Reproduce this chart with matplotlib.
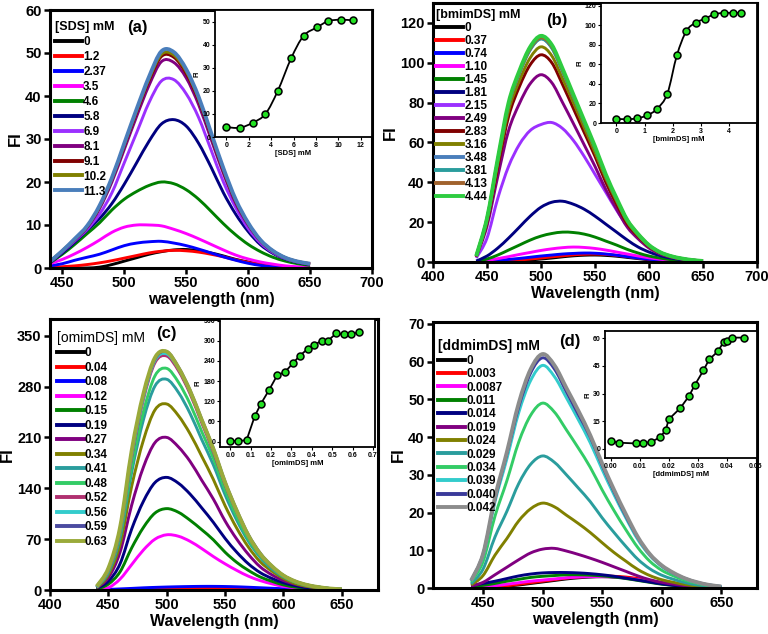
import matplotlib
matplotlib.use("Agg")
import matplotlib.pyplot as plt
from matplotlib.path import Path
from matplotlib.patches import PathPatch
from matplotlib.lines import Line2D

plt.rcParams['font.family'] = ['Liberation Sans', 'DejaVu Sans']
plt.rcParams['font.weight'] = 'bold'

# ---------------- shared x grid (nm) ----------------
WAVELENGTH = [440, 450, 460, 470, 480, 490, 500, 510, 520, 530, 540,
              550, 560, 570, 580, 590, 600, 610, 620, 630, 640, 650]

# ---------------- panel (a): SDS ----------------
a_labels = ["0", "1.2", "2.37", "3.5", "4.6", "5.8", "6.9", "8.1", "9.1", "10.2", "11.3"]
a_colors = ["#000000", "#ff0000", "#0000ff", "#ff00ff", "#008000", "#000080",
            "#9b30ff", "#800080", "#800000", "#808000", "#4a7ebb"]
a_spectra = [
    [0, 0, 0, 0, 0.2, 0.8, 1.6, 2.4, 3.2, 3.8, 4.2, 4.3, 4.0, 3.5, 2.8, 2.0, 1.4, 0.8, 0.4, 0.2, 0.1, 0],
    [0.1, 0.3, 0.5, 0.8, 1.2, 1.7, 2.3, 2.9, 3.5, 3.9, 4.1, 4.0, 3.7, 3.2, 2.6, 1.9, 1.3, 0.8, 0.4, 0.2, 0.1, 0],
    [0.5, 1.0, 1.8, 2.5, 3.2, 4.2, 5.2, 5.8, 6.1, 6.2, 5.8, 5.2, 4.4, 3.5, 2.6, 1.8, 1.1, 0.6, 0.3, 0.1, 0, 0],
    [1.0, 2.0, 3.3, 4.8, 6.5, 8.3, 9.5, 10.0, 10.0, 9.8, 9.0, 8.0, 6.8, 5.5, 4.2, 3.0, 2.1, 1.4, 0.9, 0.5, 0.3, 0.2],
    [1.2, 3.2, 5.5, 8.0, 10.5, 13.5, 16.0, 17.8, 19.2, 20.0, 19.6, 18.2, 16.0, 13.2, 10.3, 7.7, 5.5, 3.8, 2.5, 1.6, 1.0, 0.6],
    [1.3, 3.5, 6.0, 8.8, 11.5, 15.0, 19.5, 24.5, 29.5, 33.5, 34.5, 33.0, 29.0, 23.5, 17.5, 12.5, 8.5, 5.4, 3.4, 2.1, 1.3, 0.8],
    [1.4, 3.8, 6.3, 9.0, 12.5, 17.5, 24.5, 31.5, 38.5, 43.5, 43.8, 40.5, 35.0, 27.5, 20.0, 14.0, 9.2, 5.8, 3.6, 2.2, 1.4, 0.9],
    [1.4, 3.9, 6.5, 9.4, 13.8, 20.0, 27.6, 35.3, 42.5, 48.0, 47.8, 44.2, 38.0, 30.0, 22.0, 15.0, 10.0, 6.2, 3.8, 2.3, 1.4, 0.9],
    [1.5, 4.0, 6.7, 9.6, 14.2, 20.6, 28.4, 36.3, 43.6, 49.2, 49.0, 45.2, 39.0, 30.8, 22.6, 15.5, 10.3, 6.4, 3.9, 2.4, 1.5, 1.0],
    [1.5, 4.0, 6.7, 9.7, 14.3, 20.8, 28.7, 36.6, 44.0, 49.7, 49.5, 45.7, 39.4, 31.2, 23.0, 15.7, 10.4, 6.4, 4.0, 2.4, 1.5, 1.0],
    [1.5, 4.0, 6.8, 9.8, 14.5, 21.0, 29.0, 37.0, 44.5, 50.4, 50.2, 46.2, 39.8, 31.5, 23.2, 15.9, 10.5, 6.5, 4.0, 2.4, 1.5, 1.0],
]
a_inset_conc = [0, 1.2, 2.37, 3.5, 4.6, 5.8, 6.9, 8.1, 9.1, 10.2, 11.3]
a_inset_fi = [4.3, 4.0, 6.2, 10.0, 20.0, 34.2, 43.8, 47.5, 50.2, 50.8, 50.5]

# ---------------- panel (b): bmimDS ----------------
b_labels = ["0", "0.37", "0.74", "1.10", "1.45", "1.81", "2.15", "2.49", "2.83",
            "3.16", "3.48", "3.81", "4.13", "4.44"]
b_colors = ["#000000", "#ff0000", "#0000ff", "#ff00ff", "#008000", "#000080",
            "#9b30ff", "#800080", "#800000", "#808000", "#4a7ebb", "#2a9d9d",
            "#a0622d", "#2ecc40"]
b_spectra = [
    [0, 0, 0.1, 0.3, 0.6, 1.0, 1.5, 2.0, 2.6, 3.1, 3.4, 3.5, 3.3, 2.9, 2.3, 1.7, 1.1, 0.7, 0.4, 0.2, 0.1, 0],
    [0, 0.1, 0.3, 0.6, 1.0, 1.5, 2.0, 2.6, 3.1, 3.6, 3.9, 4.0, 3.8, 3.3, 2.7, 2.0, 1.4, 0.9, 0.5, 0.3, 0.1, 0],
    [0.1, 0.4, 0.8, 1.3, 1.8, 2.4, 3.0, 3.5, 4.0, 4.3, 4.5, 4.4, 4.0, 3.4, 2.7, 2.0, 1.4, 0.9, 0.5, 0.3, 0.2, 0.1],
    [0.2, 0.8, 1.7, 2.7, 3.8, 4.8, 5.8, 6.6, 7.2, 7.5, 7.3, 6.8, 6.0, 5.0, 4.0, 3.0, 2.1, 1.4, 0.9, 0.5, 0.3, 0.2],
    [0.3, 1.5, 3.5, 6.0, 8.5, 11.0, 13.0, 14.3, 15.0, 14.8, 14.0, 12.5, 10.5, 8.5, 6.3, 4.5, 3.0, 2.0, 1.2, 0.7, 0.4, 0.2],
    [0.5, 3.0, 7.0, 12.0, 17.5, 23.0, 27.5, 30.0, 30.5, 29.0, 26.5, 23.0, 19.0, 15.0, 11.0, 7.5, 5.0, 3.2, 2.0, 1.2, 0.7, 0.4],
    [2.0, 12.0, 32.0, 48.0, 59.0, 66.0, 69.0, 70.0, 67.0, 61.0, 53.0, 44.0, 35.0, 26.0, 18.0, 12.0, 7.5, 4.5, 2.7, 1.6, 0.9, 0.5],
    [2.5, 18.0, 43.0, 66.0, 79.5, 89.5, 94.0, 90.0, 80.0, 69.5, 58.8, 48.0, 36.4, 26.5, 17.4, 11.6, 7.0, 4.1, 2.5, 1.5, 0.8, 0.4],
    [2.7, 20.0, 47.6, 73.0, 88.0, 99.0, 104.0, 100.0, 89.0, 77.0, 65.0, 53.0, 40.0, 29.0, 19.0, 12.8, 7.8, 4.6, 2.7, 1.6, 0.9, 0.5],
    [2.8, 21.0, 49.5, 76.0, 91.0, 102.5, 108.0, 103.5, 92.0, 80.0, 67.5, 55.0, 42.0, 30.5, 20.0, 13.3, 8.0, 4.8, 2.8, 1.7, 1.0, 0.5],
    [3.0, 21.8, 51.3, 78.8, 94.6, 106.5, 112.0, 107.4, 95.6, 82.8, 70.0, 57.2, 43.4, 31.5, 20.7, 13.8, 8.4, 4.9, 3.0, 1.8, 1.0, 0.5],
    [3.0, 21.8, 51.3, 78.8, 94.6, 106.5, 112.0, 107.4, 95.6, 82.8, 70.0, 57.2, 43.4, 31.5, 20.7, 13.8, 8.4, 4.9, 3.0, 1.8, 1.0, 0.5],
    [3.0, 22.0, 51.5, 79.0, 95.0, 107.0, 112.5, 108.0, 96.0, 83.0, 70.3, 57.5, 43.5, 31.5, 21.0, 14.0, 8.4, 5.0, 3.0, 1.8, 1.0, 0.5],
    [3.0, 22.0, 52.0, 80.0, 96.0, 108.0, 113.5, 109.0, 97.0, 84.0, 71.0, 58.0, 44.0, 32.0, 21.0, 14.0, 8.5, 5.0, 3.0, 1.8, 1.0, 0.5],
]
b_inset_conc = [0, 0.37, 0.74, 1.10, 1.45, 1.81, 2.15, 2.49, 2.83, 3.16, 3.48, 3.81, 4.13, 4.44]
b_inset_fi = [4.4, 3.8, 4.8, 7.9, 14.7, 30.0, 69.4, 94.4, 103.0, 107.0, 111.5, 112.8, 112.8, 112.8]

# ---------------- panel (c): omimDS ----------------
c_labels = ["0", "0.04", "0.08", "0.12", "0.15", "0.19", "0.27", "0.34", "0.41",
            "0.48", "0.52", "0.56", "0.59", "0.63"]
c_colors = ["#000000", "#ff0000", "#0000ff", "#ff00ff", "#008000", "#000080",
            "#800080", "#808000", "#2a9d9d", "#33cc66", "#b03070", "#33cccc",
            "#4b4ba0", "#9aaa3a"]
c_spectra = [
    [0, 0, 0.1, 0.3, 0.5, 0.7, 0.9, 1.1, 1.3, 1.4, 1.5, 1.4, 1.3, 1.1, 0.9, 0.6, 0.4, 0.3, 0.1, 0.1, 0, 0],
    [0, 0.1, 0.2, 0.4, 0.7, 1.0, 1.3, 1.6, 1.8, 2.0, 2.0, 1.9, 1.7, 1.4, 1.1, 0.8, 0.5, 0.3, 0.2, 0.1, 0, 0],
    [0.3, 0.8, 1.5, 2.2, 3.0, 3.6, 4.1, 4.5, 4.8, 5.0, 5.0, 4.8, 4.4, 3.8, 3.1, 2.4, 1.7, 1.1, 0.7, 0.4, 0.2, 0.1],
    [0, 3, 15, 35, 55, 70, 76, 74, 67, 57, 46, 36, 27, 19, 13, 8.5, 5, 3, 1.7, 1, 0.5, 0.3],
    [1, 8, 25, 58, 86, 106, 112, 107, 96, 83, 69, 52, 38, 27, 18, 12, 7, 4, 2.5, 1.5, 0.8, 0.4],
    [2, 12, 36, 84, 122, 148, 155, 147, 132, 113, 93, 71, 52, 36, 24, 16, 10, 6, 3, 2, 1, 0.5],
    [3, 17, 52, 117, 169, 203, 210, 197, 177, 151, 125, 95, 70, 49, 32, 21, 13, 8, 5, 3, 1, 1],
    [3, 21, 63, 143, 206, 248, 256, 240, 215, 184, 152, 116, 85, 59, 39, 26, 16, 9, 5, 3, 2, 1],
    [4, 24, 72, 162, 234, 281, 290, 272, 243, 207, 172, 131, 96, 67, 45, 29, 18, 11, 6, 4, 2, 1],
    [4, 26, 76, 170, 245, 295, 305, 286, 256, 218, 181, 138, 101, 70, 47, 31, 19, 11, 7, 4, 2, 1],
    [4, 27, 80, 183, 262, 313, 322, 302, 270, 230, 190, 145, 107, 74, 49, 32, 20, 12, 7, 4, 2, 1],
    [4, 28, 82, 186, 265, 316, 325, 305, 273, 233, 193, 147, 108, 75, 50, 33, 20, 12, 7, 4, 2, 1],
    [5, 29, 84, 190, 268, 318, 328, 307, 275, 235, 195, 149, 110, 76, 51, 33, 20, 12, 7, 4, 2, 1],
    [5, 30, 86, 192, 270, 320, 328, 306, 274, 234, 194, 148, 109, 75, 50, 33, 20, 12, 7, 4, 2, 1],
]
c_inset_conc = [0, 0.04, 0.08, 0.12, 0.15, 0.19, 0.23, 0.27, 0.31, 0.34, 0.38, 0.41,
                0.45, 0.48, 0.52, 0.56, 0.59, 0.63]
c_inset_fi = [2, 2, 4, 75, 112, 153, 197, 208, 235, 255, 276, 287, 301, 301, 322, 319, 321, 325]

# ---------------- panel (d): ddmimDS ----------------
d_labels = ["0", "0.003", "0.0087", "0.011", "0.014", "0.019", "0.024", "0.029",
            "0.034", "0.039", "0.040", "0.042"]
d_colors = ["#000000", "#ff0000", "#ff00ff", "#008000", "#000080", "#800080",
            "#808000", "#2a9d9d", "#33cc66", "#33cccc", "#3a3a9a", "#8c8c8c"]
d_spectra = [
    [0, 0, 0.2, 0.5, 0.8, 1.2, 1.6, 2.0, 2.4, 2.7, 2.9, 3.0, 2.9, 2.7, 2.3, 1.8, 1.3, 0.8, 0.5, 0.2, 0.1, 0],
    [0, 0.1, 0.3, 0.6, 1.0, 1.4, 1.8, 2.2, 2.6, 2.9, 3.1, 3.2, 3.1, 2.9, 2.5, 2.0, 1.4, 0.9, 0.5, 0.3, 0.1, 0.05],
    [0.1, 0.3, 0.6, 1.0, 1.4, 1.8, 2.1, 2.4, 2.7, 2.9, 3.0, 3.0, 2.9, 2.6, 2.2, 1.7, 1.2, 0.8, 0.5, 0.3, 0.1, 0.05],
    [0.3, 0.7, 1.2, 1.8, 2.3, 2.8, 3.1, 3.3, 3.5, 3.5, 3.4, 3.2, 2.9, 2.5, 2.0, 1.5, 1.0, 0.7, 0.4, 0.2, 0.1, 0.05],
    [0.6, 1.2, 1.8, 2.5, 3.2, 3.7, 4.0, 4.1, 4.1, 4.0, 3.8, 3.5, 3.1, 2.6, 2.1, 1.6, 1.1, 0.7, 0.4, 0.2, 0.1, 0.05],
    [0.5, 1.5, 3.5, 5.5, 7.5, 9.3, 10.3, 10.5, 9.8, 8.9, 7.9, 6.8, 5.6, 4.4, 3.2, 2.2, 1.5, 1.0, 0.6, 0.3, 0.2, 0.1],
    [0.8, 3.3, 8.7, 13.1, 17.8, 21.0, 22.5, 21.5, 19.3, 17.1, 14.7, 12.0, 9.4, 7.1, 4.9, 3.3, 2.2, 1.5, 0.9, 0.5, 0.3, 0.15],
    [1.1, 5.0, 13.5, 20.3, 27.7, 32.8, 35.0, 33.3, 30.0, 26.5, 22.9, 18.6, 14.7, 11.0, 7.6, 5.1, 3.4, 2.3, 1.4, 0.8, 0.5, 0.2],
    [1.6, 7.0, 19.0, 28.4, 38.7, 45.8, 49.0, 46.6, 41.9, 37.1, 32.0, 26.0, 20.5, 15.4, 10.7, 7.1, 4.7, 3.2, 2.0, 1.2, 0.6, 0.3],
    [1.9, 8.5, 22.8, 34.2, 46.5, 55.0, 59.0, 56.0, 50.4, 44.6, 38.5, 31.4, 24.7, 18.5, 12.8, 8.6, 5.7, 3.8, 2.4, 1.4, 0.8, 0.4],
    [2.0, 9.0, 23.5, 35.5, 48.0, 57.0, 61.0, 58.0, 52.0, 46.0, 40.0, 32.5, 25.5, 19.0, 13.3, 8.9, 5.9, 3.9, 2.5, 1.5, 0.8, 0.4],
    [2.0, 9.0, 24.0, 36.0, 49.0, 58.0, 62.0, 59.0, 53.0, 47.0, 40.5, 33.0, 26.0, 19.5, 13.5, 9.0, 6.0, 4.0, 2.5, 1.5, 0.8, 0.4],
]
d_inset_conc = [0, 0.003, 0.0087, 0.011, 0.014, 0.017, 0.019, 0.020, 0.024, 0.027,
                0.029, 0.032, 0.034, 0.037, 0.039, 0.040, 0.042, 0.046]
d_inset_fi = [4.2, 3.3, 2.9, 2.9, 3.8, 6.2, 10.2, 16.0, 22.1, 28.6, 34.6, 42.6,
              48.6, 52.9, 58.2, 58.4, 60.4, 60.4]

W, H = 768, 634
fig = plt.figure(figsize=(W / 100, H / 100), dpi=100)


def rect(l, r, t, b):
    return [l / W, 1 - b / H, (r - l) / W, (b - t) / H]


def smooth_line(ax, xs, ys, color, lw, zorder=2):
    """Draw a smooth (Catmull-Rom / cubic Bezier) line through the data points
    in data coordinates of the axes."""
    pts = list(zip(xs, ys))
    n = len(pts)
    verts = [pts[0]]
    codes = [Path.MOVETO]
    for i in range(n - 1):
        p0 = pts[max(i - 1, 0)]
        p1 = pts[i]
        p2 = pts[i + 1]
        p3 = pts[min(i + 2, n - 1)]
        c1 = (p1[0] + (p2[0] - p0[0]) / 6, p1[1] + (p2[1] - p0[1]) / 6)
        c2 = (p2[0] - (p3[0] - p1[0]) / 6, p2[1] - (p3[1] - p1[1]) / 6)
        verts += [c1, c2, p2]
        codes += [Path.CURVE4] * 3
    patch = PathPatch(Path(verts, codes), fill=False, edgecolor=color, lw=lw,
                      transform=ax.transData, zorder=zorder, capstyle='butt',
                      joinstyle='round')
    ax.add_patch(patch)


def main_panel(box, spectra, colors, labels, title, xlim, ylim, xticks, yticks,
               xlabel, tag, tagpos, legpos, labelspacing, title_weight='bold',
               title_size=9):
    ax = fig.add_axes(rect(*box))
    handles = []
    for i, (spec, col, lab) in enumerate(zip(spectra, colors, labels)):
        lw = 2.8 if i == len(spectra) - 1 else 2.1
        smooth_line(ax, WAVELENGTH, spec, col, lw)
        handles.append(Line2D([], [], color=col, lw=2.8, label=lab))
    ax.set_xlim(*xlim)
    ax.set_ylim(*ylim)
    ax.set_xticks(xticks)
    ax.set_yticks(yticks)
    for s in ax.spines.values():
        s.set_linewidth(2.2)
    ax.tick_params(direction='out', length=4, width=1.8, labelsize=10.5, pad=2)
    for t in ax.get_xticklabels() + ax.get_yticklabels():
        t.set_fontweight('bold')
    ax.set_xlabel(xlabel, fontsize=11.5, fontweight='bold', labelpad=1)
    ax.set_ylabel("FI", fontsize=12, fontweight='bold', labelpad=2)
    ax.text(tagpos[0], tagpos[1], tag, transform=ax.transAxes, fontsize=12,
            fontweight='bold', ha='left', va='top')
    ax.legend(handles=handles, loc='upper left', bbox_to_anchor=legpos, frameon=False,
              prop={'weight': 'bold', 'size': 8.5}, handlelength=2.3,
              handletextpad=0.1, labelspacing=labelspacing, borderpad=0,
              borderaxespad=0, title=title,
              title_fontproperties={'weight': title_weight, 'size': title_size},
              alignment='left')
    return ax


def inset_panel(box, xs, ys, xlim, ylim, xticks, yticks, xlabel, xfmt=None, smooth=False):
    ax = fig.add_axes(rect(*box))
    if smooth:
        smooth_line(ax, xs, ys, 'black', 1.3)
        ax.plot(xs, ys, ls='none', marker='o', ms=5,
                mfc='#22e022', mec='black', mew=1.1, zorder=3)
    else:
        ax.plot(xs, ys, color='black', lw=1.3, marker='o', ms=5,
                mfc='#22e022', mec='black', mew=1.1, zorder=3)
    ax.set_xlim(*xlim)
    ax.set_ylim(*ylim)
    ax.set_xticks(xticks)
    ax.set_yticks(yticks)
    if xfmt:
        ax.set_xticklabels([xfmt.format(v) for v in xticks])
    for s in ax.spines.values():
        s.set_linewidth(1.3)
    ax.tick_params(direction='out', length=2, width=0.8, labelsize=5, pad=1.5)
    ax.set_xlabel(xlabel, fontsize=5.5, fontweight='bold', labelpad=1)
    ax.set_ylabel("FI", fontsize=5, fontweight='bold', labelpad=1)
    ax.patch.set_facecolor('white')
    return ax


# (a)
main_panel((50, 372, 10, 268), a_spectra, a_colors, a_labels, "[SDS] mM",
           (440, 700), (0, 60), [450, 500, 550, 600, 650, 700],
           [0, 10, 20, 30, 40, 50, 60], "wavelength (nm)", "(a)", (0.24, 0.96),
           (0.015, 0.957), 0.25)
inset_panel((215, 372, 10, 137), a_inset_conc, a_inset_fi, (-1, 13), (0, 55),
            [0, 2, 4, 6, 8, 10, 12], [0, 10, 20, 30, 40, 50], "[SDS] mM", smooth=True)

# (b)
main_panel((433, 757, 3, 262), b_spectra, b_colors, b_labels, "[bmimDS] mM",
           (400, 700), (0, 130), [400, 450, 500, 550, 600, 650, 700],
           [0, 20, 40, 60, 80, 100, 120], "Wavelength (nm)", "(b)", (0.35, 0.96),
           (0.01, 0.975), 0.08)
inset_panel((601, 757, 3, 123), b_inset_conc, b_inset_fi, (-0.55, 5.0), (0, 123),
            [0, 1, 2, 3, 4], [0, 20, 40, 60, 80, 100, 120], "[bmimDS] mM", smooth=True)

# (c)
main_panel((50, 378, 319, 590), c_spectra, c_colors, c_labels, "[omimDS] mM",
           (400, 681), (0, 373), [400, 450, 500, 550, 600, 650],
           [0, 70, 140, 210, 280, 350], "Wavelength (nm)", "(c)", (0.325, 0.975),
           (0.02, 0.956), 0.21, title_weight='normal', title_size=10)
inset_panel((220, 375, 319, 447), c_inset_conc, c_inset_fi, (-0.05, 0.71), (-16, 365),
            [0, 0.1, 0.2, 0.3, 0.4, 0.5, 0.6, 0.7], [0, 60, 120, 180, 240, 300, 360],
            "[omimDS] mM", xfmt="{:.1f}")

# (d)
main_panel((433, 757, 322, 588), d_spectra, d_colors, d_labels, "[ddmimDS] mM",
           (408, 680), (0, 70.5), [450, 500, 550, 600, 650],
           [0, 10, 20, 30, 40, 50, 60, 70], "wavelength (nm)", "(d)", (0.39, 0.955),
           (0.015, 0.935), 0.12, title_size=10)
inset_panel((605, 757, 331, 458), d_inset_conc, d_inset_fi, (-0.002, 0.0505), (-5, 64),
            [0, 0.01, 0.02, 0.03, 0.04, 0.05], [0, 15, 30, 45, 60], "[ddmimDS] mM",
            xfmt="{:.2f}")

fig.savefig("out.png", dpi=100, facecolor='white')
